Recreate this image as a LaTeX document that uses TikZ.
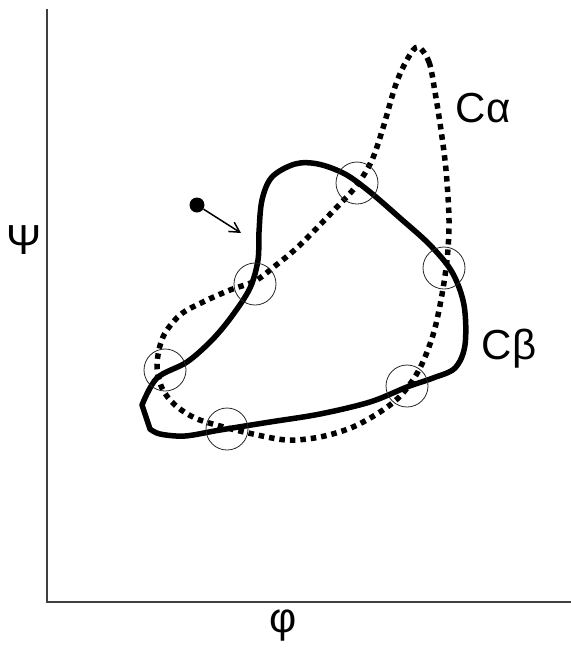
\documentclass[tikz,border=0pt]{standalone}
\usepackage{fontspec}
\setmainfont{Liberation Sans}
\usetikzlibrary{arrows.meta}
\begin{document}
\begin{tikzpicture}[x=1pt, y=-1pt, every node/.style={font=\fontsize{42}{46}\selectfont}]
  \tikzstyle{axis}=[line width=1.6pt, black!75]
  \tikzstyle{calpha}=[line width=5.5pt, dash pattern=on 5.5pt off 5pt]
  \tikzstyle{cbeta}=[line width=5.5pt, line join=round]
  \tikzstyle{cross}=[draw, circle, minimum size=42pt, inner sep=0pt, line width=0.8pt, black!85]
  \useasboundingbox (0,0) rectangle (571,649);
  \coordinate (top) at (47,9);
  \coordinate (origin) at (47,602);
  \coordinate (right) at (571,602);
  \draw[axis] (top) -- (origin) -- (right);
  \node (psi) at (24,240) {Ψ};
  \node (phi) at (283,626) {φ};
  \draw[calpha] plot[smooth cycle, tension=0.55] coordinates {
    (418,47) (429,62) (435,92) (441,130) (446,170) (449,220) (447,260)
    (441,300) (433,335) (420,368) (403,393) (383,410) (353,427) (320,437)
    (287,440) (253,434) (220,426) (195,418) (175,405) (162,388) (157,365)
    (163,337) (180,315) (203,302) (230,290) (255,281) (275,266) (300,245)
    (337,207) (357,185) (372,160) (383,128) (396,84) (408,58)};
  \draw[cbeta] plot[smooth, tension=0.55] coordinates {
    (142,405) (157,378) (187,362) (212,340) (232,316) (250,288) (258,260)
    (259,232) (262,200) (272,177) (295,164) (318,164) (345,174) (370,192)
    (400,218) (430,245) (452,272) (464,305) (465,345) (455,368) (433,378)
    (407,387) (370,402) (320,414) (270,422) (220,430) (185,436) (160,434)
    (150,429)} -- cycle;
  \node[cross] (x1) at (357,183) {};
  \node[cross] (x2) at (444,268) {};
  \node[cross] (x3) at (255,284) {};
  \node[cross] (x4) at (165,370) {};
  \node[cross] (x5) at (407,386) {};
  \node[cross] (x6) at (227,429) {};
  \node[circle, fill, inner sep=0pt, minimum size=15pt] (start) at (197,205) {};
  \coordinate (tip) at (241,233);
  \draw[-{Straight Barb[length=10pt, width=11pt]}, line width=1.5pt] (start) -- (tip);
  \node (ca) at (483,108) {Cα};
  \node (cb) at (509,349) {Cβ};
\end{tikzpicture}
\end{document}
